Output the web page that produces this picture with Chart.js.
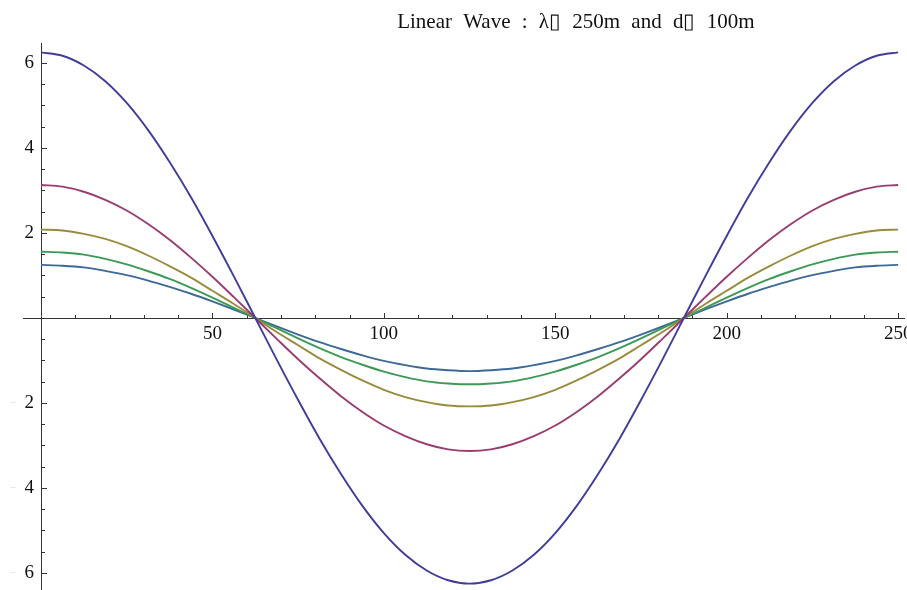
<!DOCTYPE html>
<html>
<head>
<meta charset="utf-8">
<script src="https://cdn.jsdelivr.net/npm/chart.js@4.4.1/dist/chart.umd.min.js"></script>
<style>
  html, body { margin: 0; padding: 0; background: #fff; }
  canvas { display: block; }
</style>
</head>
<body>
<canvas id="wave" width="907" height="590"></canvas>
<script>
// Horizontal position along the wave (m)
const xPos = [0, 6.25, 12.5, 18.75, 25, 31.25, 37.5, 43.75, 50, 56.25, 62.5,
  68.75, 75, 81.25, 87.5, 93.75, 100, 106.25, 112.5, 118.75, 125,
  131.25, 137.5, 143.75, 150, 156.25, 162.5, 168.75, 175, 181.25, 187.5,
  193.75, 200, 206.25, 212.5, 218.75, 225, 231.25, 237.5, 243.75, 250];

// Surface / particle profiles, one per depth level
const profile1 = [6.25, 6.17, 5.94, 5.57, 5.06, 4.42, 3.67, 2.84, 1.93, 0.98, 0,
  -0.98, -1.93, -2.84, -3.67, -4.42, -5.06, -5.57, -5.94, -6.17, -6.25,
  -6.17, -5.94, -5.57, -5.06, -4.42, -3.67, -2.84, -1.93, -0.98, 0,
  0.98, 1.93, 2.84, 3.67, 4.42, 5.06, 5.57, 5.94, 6.17, 6.25];
const profile2 = [3.13, 3.09, 2.97, 2.78, 2.53, 2.21, 1.84, 1.42, 0.97, 0.49, 0,
  -0.49, -0.97, -1.42, -1.84, -2.21, -2.53, -2.78, -2.97, -3.09, -3.13,
  -3.09, -2.97, -2.78, -2.53, -2.21, -1.84, -1.42, -0.97, -0.49, 0,
  0.49, 0.97, 1.42, 1.84, 2.21, 2.53, 2.78, 2.97, 3.09, 3.13];
const profile3 = [2.08, 2.06, 1.98, 1.86, 1.69, 1.47, 1.22, 0.95, 0.64, 0.33, 0,
  -0.33, -0.64, -0.95, -1.22, -1.47, -1.69, -1.86, -1.98, -2.06, -2.08,
  -2.06, -1.98, -1.86, -1.69, -1.47, -1.22, -0.95, -0.64, -0.33, 0,
  0.33, 0.64, 0.95, 1.22, 1.47, 1.69, 1.86, 1.98, 2.06, 2.08];
const profile4 = [1.56, 1.54, 1.49, 1.39, 1.26, 1.10, 0.92, 0.71, 0.48, 0.24, 0,
  -0.24, -0.48, -0.71, -0.92, -1.10, -1.26, -1.39, -1.49, -1.54, -1.56,
  -1.54, -1.49, -1.39, -1.26, -1.10, -0.92, -0.71, -0.48, -0.24, 0,
  0.24, 0.48, 0.71, 0.92, 1.10, 1.26, 1.39, 1.49, 1.54, 1.56];
const profile5 = [1.25, 1.23, 1.19, 1.11, 1.01, 0.88, 0.73, 0.57, 0.39, 0.20, 0,
  -0.20, -0.39, -0.57, -0.73, -0.88, -1.01, -1.11, -1.19, -1.23, -1.25,
  -1.23, -1.19, -1.11, -1.01, -0.88, -0.73, -0.57, -0.39, -0.20, 0,
  0.20, 0.39, 0.57, 0.73, 0.88, 1.01, 1.11, 1.19, 1.23, 1.25];

const profiles = [profile1, profile2, profile3, profile4, profile5];
const colors = ['#3f3d99', '#993d71', '#998b3d', '#3d9956', '#3d6999'];

// Axis ticks
const xMajorTicks = [50, 100, 150, 200, 250];
const yMajorTicks = [-6, -4, -2, 2, 4, 6];
const titleText = 'Linear Wave : \u03bb\u25af 250m and d\u25af 100m';

const FONT = '"Liberation Serif", "Times New Roman", serif';

const axesPlugin = {
  id: 'mathAxes',
  beforeDatasetsDraw(chart) {
    const { ctx, scales: { x, y } } = chart;
    const x0 = x.getPixelForValue(0);
    const y0 = y.getPixelForValue(0);
    ctx.save();
    ctx.strokeStyle = '#333';
    ctx.lineWidth = 1;
    // axis lines
    ctx.beginPath();
    ctx.moveTo(23, Math.round(y0) + 0.5);
    ctx.lineTo(x.right, Math.round(y0) + 0.5);
    ctx.moveTo(Math.round(x0) + 0.5, y.top);
    ctx.lineTo(Math.round(x0) + 0.5, y.bottom);
    ctx.stroke();

    // x ticks (pointing up), every 10, longer every 50
    ctx.beginPath();
    for (let v = 10; v <= x.max; v += 10) {
      const px = Math.round(x.getPixelForValue(v)) + 0.5;
      const len = v % 50 === 0 ? 5 : 3;
      ctx.moveTo(px, Math.round(y0));
      ctx.lineTo(px, Math.round(y0) - len);
    }
    // y ticks (pointing right), every 0.5, longer every 2
    for (let v = -6; v <= y.max; v += 0.5) {
      if (v === 0) continue;
      const py = Math.round(y.getPixelForValue(v)) + 0.5;
      const len = v % 2 === 0 ? 5 : 3;
      ctx.moveTo(Math.round(x0) + 1, py);
      ctx.lineTo(Math.round(x0) + 1 + len, py);
    }
    ctx.stroke();

    // tick labels
    ctx.fillStyle = '#111';
    ctx.font = '19px ' + FONT;
    ctx.textAlign = 'center';
    ctx.textBaseline = 'middle';
    xMajorTicks.forEach(v => {
      ctx.fillText(String(v), x.getPixelForValue(v), y0 + 16);
    });
    ctx.textAlign = 'right';
    yMajorTicks.forEach(v => {
      const py = y.getPixelForValue(v);
      ctx.fillStyle = '#111';
      ctx.fillText(String(Math.abs(v)), x0 - 7, py);
      if (v < 0) {
        ctx.fillStyle = '#d0d0d0';
        ctx.font = '10px ' + FONT;
        ctx.fillText('\u2212', 16, py);
        ctx.font = '19px ' + FONT;
      }
    });

    // title
    ctx.fillStyle = '#111';
    ctx.font = '21px ' + FONT;
    ctx.textAlign = 'center';
    ctx.textBaseline = 'middle';
    ctx.wordSpacing = '6px';
    ctx.fillText(titleText, x.left + 0.619 * (x.right - x.left), 22);
    ctx.restore();
  }
};

new Chart(document.getElementById('wave'), {
  type: 'line',
  data: {
    datasets: profiles.map((p, i) => ({
      data: xPos.map((xv, j) => ({ x: xv, y: p[j] })),
      borderColor: colors[i],
      borderWidth: 1.9,
      pointRadius: 0,
      cubicInterpolationMode: 'monotone',
      fill: false
    }))
  },
  options: {
    responsive: false,
    animation: false,
    events: [],
    layout: { padding: { left: 41, right: 2, top: 43, bottom: 0 } },
    plugins: { legend: { display: false }, title: { display: false }, tooltip: { enabled: false } },
    scales: {
      x: { type: 'linear', display: false, min: 0, max: 252 },
      y: { type: 'linear', display: false, min: -6.4, max: 6.47 }
    }
  },
  plugins: [axesPlugin]
});
</script>
</body>
</html>
